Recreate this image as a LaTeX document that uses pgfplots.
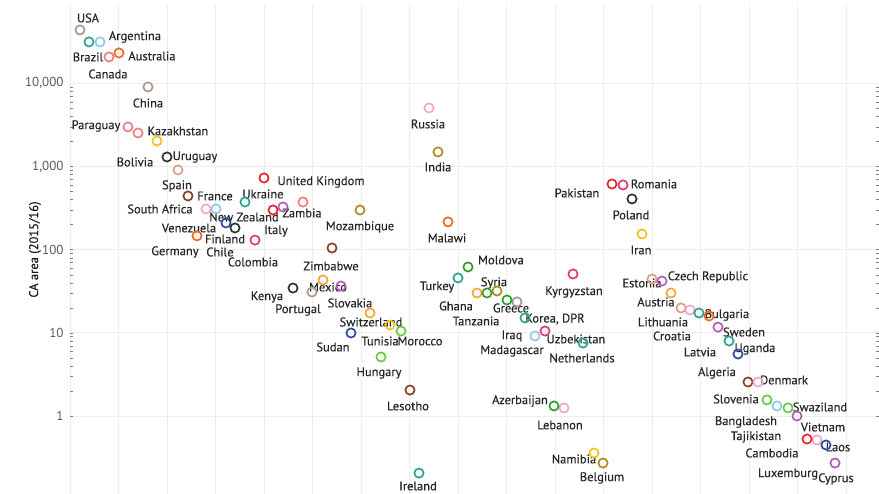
\documentclass[border=0pt]{standalone}
\usepackage{fontspec}
\setmainfont{PT Sans}
\newfontfamily\lblfont{PT Sans}[FakeBold=0.35]
\usepackage{pgfplots}
\pgfplotsset{compat=1.18}
\definecolor{taupe}{HTML}{AA9B92}
\definecolor{lblue}{HTML}{8FC8EA}
\definecolor{salmon}{HTML}{F47B80}
\definecolor{dorange}{HTML}{F26A1B}
\definecolor{lorange}{HTML}{F6A631}
\definecolor{cyellow}{HTML}{F0C419}
\definecolor{cblack}{HTML}{333333}
\definecolor{tan}{HTML}{D9A088}
\definecolor{cbrown}{HTML}{8E3F2A}
\definecolor{lpink}{HTML}{F5A6C8}
\definecolor{dblue}{HTML}{2E4AA8}
\definecolor{cteal}{HTML}{2AA58E}
\definecolor{cred}{HTML}{E8242C}
\definecolor{magenta}{HTML}{E03A7E}
\definecolor{violet}{HTML}{B75DB8}
\definecolor{olive}{HTML}{B38B1D}
\definecolor{cgreen}{HTML}{2CA02C}
\definecolor{lgreen}{HTML}{6ACB3C}
\tikzset{lbl/.style={font=\lblfont\fontsize{12.5}{13}\selectfont, text=black!85, inner sep=0pt, anchor=center}}
\newcommand\lab[3]{\node[lbl] at (rel axis cs:{(#1-70)/809},{(494-#2)/489}) {#3};}
\pgfplotsset{circ/.style={only marks, mark=o, mark size=4.6pt, color=#1, mark options={line width=1.7pt}}}
\begin{document}
\begin{tikzpicture}
\begin{axis}[
 at={(0,0)}, anchor=south west,
 scale only axis, width=809pt, height=489pt,
 xmin=70, xmax=879, ymode=log, ymin=0.1155, ymax=87000,
 xtick={70,118.5,...,860}, xticklabels={},
 ytick={1,10,100,1000,10000}, yticklabels={1,10,100,{1,000},{10,000}},
 grid=major, grid style={draw=black!7, line width=0.8pt},
 axis line style={draw=none}, major tick length=0pt,
 yticklabel style={font=\fontsize{13}{14}\selectfont, text=black!65, xshift=-3pt},
 ylabel={CA area (2015/16)},
 every axis y label/.style={at={(rel axis cs:0,0.5)}, xshift=-35pt, rotate=90, anchor=center, font=\lblfont\fontsize{12.5}{13}\selectfont, text=black!90},
 clip=false,
]
\addplot[circ=taupe] coordinates {(80,43600) (148,9000) (312,30.9) (517,23.5)};
\addplot[circ=lblue] coordinates {(100,31300) (216,308) (535,9.15) (777,1.32)};
\addplot[circ=salmon] coordinates {(109,20650) (128,2977) (138,2520) (303,373)};
\addplot[circ=dorange] coordinates {(119,23070) (197,146) (448,215) (709,15.9)};
\addplot[circ=lorange] coordinates {(323,43.1) (370,17.3) (477,30.1) (671,30.1)};
\addplot[circ=cyellow] coordinates {(157,2020) (390,12.4) (642,154) (594,0.359)};
\addplot[circ=cblack] coordinates {(167,1297) (235,182) (293,34.5) (632,406)};
\addplot[circ=tan] coordinates {(178,906) (652,44.3) (681,19.9)};
\addplot[circ=cbrown] coordinates {(188,441) (332,104.6) (410,2.05) (748,2.56)};
\addplot[circ=lpink] coordinates {(206,308) (429,5035) (564,1.25) (690,18.8) (758,2.56) (817,0.515)};
\addplot[circ=dblue] coordinates {(226,209) (351,9.95) (738,5.56) (826,0.448)};
\addplot[circ=cteal] coordinates {(89,31300) (245,373) (419,0.206) (458,45.6) (525,15.1) (583,7.54) (699,17.3) (729,7.97)};
\addplot[circ=cred] coordinates {(264,726) (273,299) (612,614) (807,0.529)};
\addplot[circ=magenta] coordinates {(255,130) (573,50.9) (545,10.5) (623,598)};
\addplot[circ=violet] coordinates {(283,325) (341,36.5) (662,41.9) (718,11.7) (797,1.0) (835,0.272)};
\addplot[circ=olive] coordinates {(360,299) (438,1490) (497,31.8) (603,0.272)};
\addplot[circ=cgreen] coordinates {(468,61.8) (487,30.1) (507,24.8) (554,1.32)};
\addplot[circ=lgreen] coordinates {(401,10.5) (381,5.12) (767,1.56) (788,1.25)};
\lab{88}{18}{USA}
\lab{135}{37}{Argentina}
\lab{88}{57}{Brazil}
\lab{152}{56}{Australia}
\lab{108}{74}{Canada}
\lab{148}{103}{China}
\lab{96}{126}{Paraguay}
\lab{178}{131}{Kazakhstan}
\lab{135}{162}{Bolivia}
\lab{195}{157}{Uruguay}
\lab{177}{186}{Spain}
\lab{215}{196}{France}
\lab{160}{209}{South Africa}
\lab{244}{217}{New Zealand}
\lab{189}{228}{Venezuela}
\lab{225}{239}{Finland}
\lab{175}{252}{Germany}
\lab{220}{252}{Chile}
\lab{253}{262}{Colombia}
\lab{263}{194}{Ukraine}
\lab{321}{182}{United Kingdom}
\lab{302}{213}{Zambia}
\lab{276}{231}{Italy}
\lab{360}{227}{Mozambique}
\lab{331}{266}{Zimbabwe}
\lab{267}{297}{Kenya}
\lab{328}{287}{Mexico}
\lab{298}{310}{Portugal}
\lab{350}{303}{Slovakia}
\lab{371}{322}{Switzerland}
\lab{333}{347}{Sudan}
\lab{380}{341}{Tunisia}
\lab{420}{341}{Morocco}
\lab{379}{373}{Hungary}
\lab{408}{406}{Lesotho}
\lab{418}{486}{Ireland}
\lab{428}{124}{Russia}
\lab{438}{167}{India}
\lab{447}{238}{Malawi}
\lab{501}{260}{Moldova}
\lab{437}{287}{Turkey}
\lab{494}{283}{Syria}
\lab{456}{306}{Ghana}
\lab{511}{308}{Greece}
\lab{476}{321}{Tanzania}
\lab{555}{319}{Korea, DPR}
\lab{574}{292}{Kyrgyzstan}
\lab{512}{336}{Iraq}
\lab{576}{339}{Uzbekistan}
\lab{512}{351}{Madagascar}
\lab{582}{358}{Netherlands}
\lab{520}{401}{Azerbaijan}
\lab{560}{425}{Lebanon}
\lab{574}{459}{Namibia}
\lab{602}{478}{Belgium}
\lab{577}{193}{Pakistan}
\lab{654}{184}{Romania}
\lab{631}{215}{Poland}
\lab{641}{250}{Iran}
\lab{642}{283}{Estonia}
\lab{708}{277}{Czech Republic}
\lab{656}{302}{Austria}
\lab{663}{322}{Lithuania}
\lab{672}{336}{Croatia}
\lab{727}{315}{Bulgaria}
\lab{744}{332}{Sweden}
\lab{700}{352}{Latvia}
\lab{755}{349}{Uganda}
\lab{717}{373}{Algeria}
\lab{784}{380}{Denmark}
\lab{736}{399}{Slovenia}
\lab{820}{407}{Swaziland}
\lab{746}{422}{Bangladesh}
\lab{823}{427}{Vietnam}
\lab{756}{437}{Tajikistan}
\lab{838}{447}{Laos}
\lab{772}{453}{Cambodia}
\lab{788}{474}{Luxemburg}
\lab{836}{479}{Cyprus}
\end{axis}
\pgfresetboundingbox
\path[use as bounding box] (-70pt,0pt) rectangle (809pt,494pt);
\end{tikzpicture}
\end{document}
